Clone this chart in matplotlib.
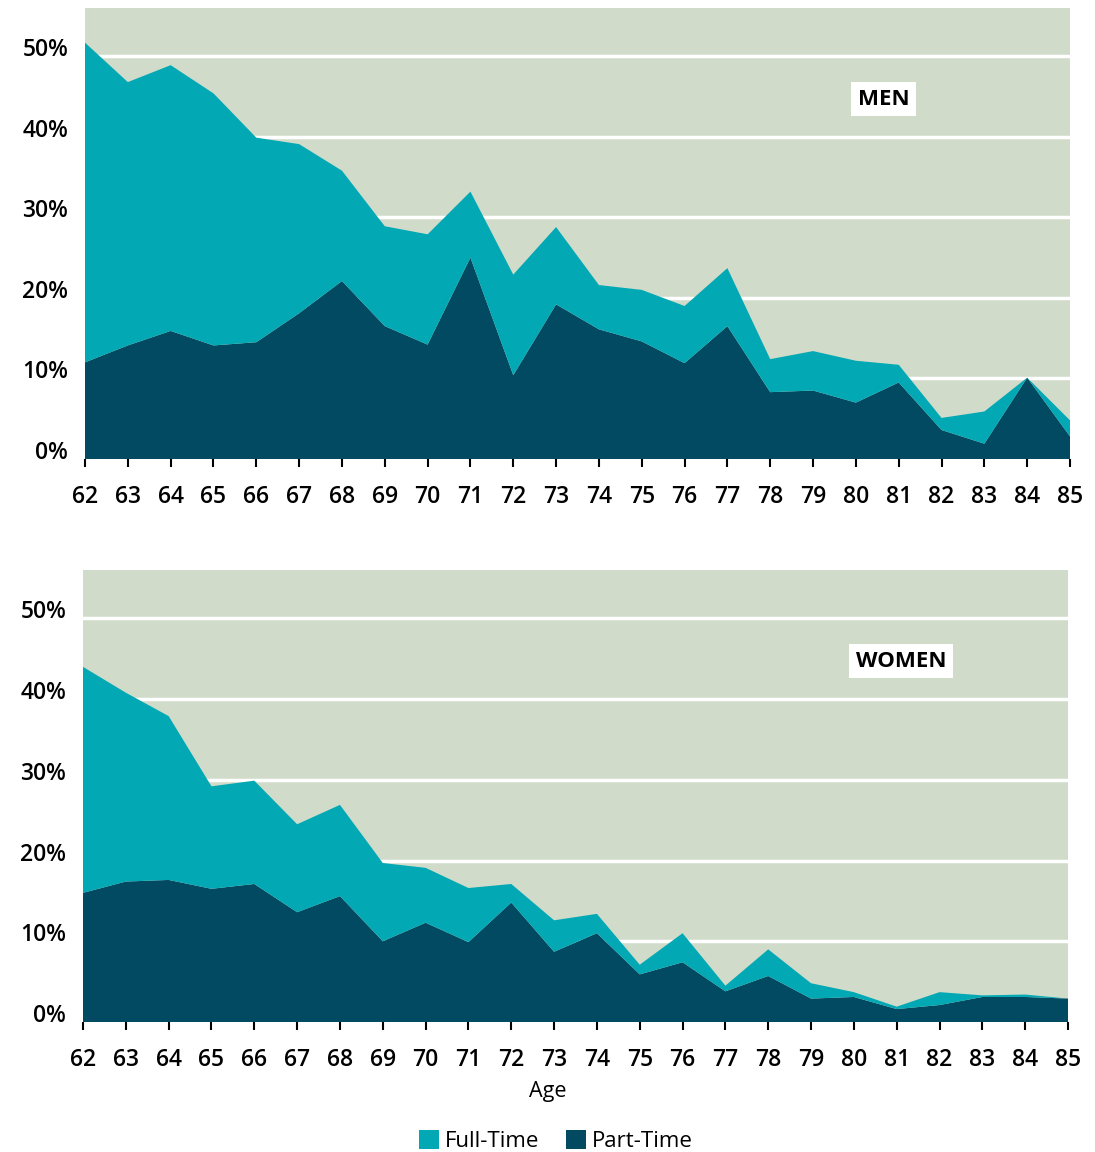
import matplotlib
matplotlib.use('Agg')
import matplotlib.pyplot as plt
import matplotlib.transforms as mtransforms
from matplotlib.patches import Patch

plt.rcParams['font.family'] = ['Open Sans', 'DejaVu Sans']

ages = list(range(62, 86))

# share of age group working, in percent
men_part = [12.0, 14.1, 15.9, 14.1, 14.5, 18.1, 22.1, 16.5, 14.2, 25.0, 10.4, 19.2,
            16.1, 14.6, 11.9, 16.5, 8.3, 8.5, 7.0, 9.5, 3.6, 1.9, 10.1, 2.8]
men_total = [51.7, 46.8, 48.9, 45.4, 39.9, 39.1, 35.8, 28.9, 27.9, 33.2, 22.9, 28.8,
             21.6, 21.0, 19.0, 23.7, 12.4, 13.4, 12.2, 11.7, 5.1, 5.9, 10.1, 4.8]
women_part = [16.0, 17.4, 17.6, 16.5, 17.1, 13.6, 15.6, 10.0, 12.3, 9.9, 14.8, 8.7,
              11.0, 5.9, 7.4, 3.8, 5.7, 2.9, 3.1, 1.6, 2.1, 3.1, 3.1, 2.9]
women_total = [44.0, 40.8, 37.9, 29.2, 29.9, 24.5, 26.9, 19.7, 19.1, 16.6, 17.1, 12.6,
               13.4, 7.1, 11.0, 4.5, 9.0, 4.8, 3.7, 1.9, 3.7, 3.3, 3.4, 2.9]

men_full = [t - p for t, p in zip(men_total, men_part)]
women_full = [t - p for t, p in zip(women_total, women_part)]

yticks = [0, 10, 20, 30, 40, 50]
ytick_labels = ['0%', '10%', '20%', '30%', '40%', '50%']

bg = '#d0dbca'
teal = '#02a9b4'
dark = '#024a62'

fig = plt.figure(figsize=(10.95, 11.52), dpi=100)
ax_men = fig.add_axes([85 / 1095, 1 - 459 / 1152, 985 / 1095, 451 / 1152])
ax_women = fig.add_axes([83 / 1095, 1 - 1022 / 1152, 985 / 1095, 452 / 1152])


def draw_panel(ax, part, full, label):
    ax.set_facecolor(bg)
    ax.stackplot(ages, part, full, colors=[dark, teal], linewidth=0)
    ax.set_xlim(62, 85)
    ax.set_ylim(0, 56)
    ax.set_axisbelow(True)
    ax.set_yticks(yticks)
    ax.set_yticklabels(ytick_labels)
    ax.grid(axis='y', color='white', linewidth=2.5)
    ax.set_xticks(ages)
    ax.set_xticklabels([str(a) for a in ages])
    for s in ax.spines.values():
        s.set_visible(False)
    ax.tick_params(axis='y', length=0, pad=12, labelsize=16.5)
    ax.tick_params(axis='x', direction='out', length=6, width=1.5, color='black',
                   pad=13, labelsize=16.5)
    for t in ax.get_yticklabels() + ax.get_xticklabels():
        t.set_fontweight('semibold')
    offset = mtransforms.ScaledTranslation(0, 0.09, fig.dpi_scale_trans)
    for t in ax.get_yticklabels():
        t.set_transform(t.get_transform() + offset)
    ax.text(80.05, 44.7, label, ha='left', va='center', fontsize=16,
            fontweight='bold', color='black', zorder=5,
            bbox=dict(boxstyle='square,pad=0.3', facecolor='white', edgecolor='none'))


draw_panel(ax_men, men_part, men_full, 'MEN')
draw_panel(ax_women, women_part, women_full, 'WOMEN')

fig.text(548 / 1095, 1 - 1091 / 1152, 'Age', ha='center', va='center', fontsize=15.5)

handles = [Patch(facecolor=teal, label='Full-Time'), Patch(facecolor=dark, label='Part-Time')]
fig.legend(handles=handles, loc='center', bbox_to_anchor=(556 / 1095, 1 - 1141 / 1152),
           ncol=2, frameon=False, fontsize=16, handlelength=0.9, handleheight=0.9,
           handletextpad=0.25, columnspacing=1.2)

fig.savefig('out.png', dpi=100)
